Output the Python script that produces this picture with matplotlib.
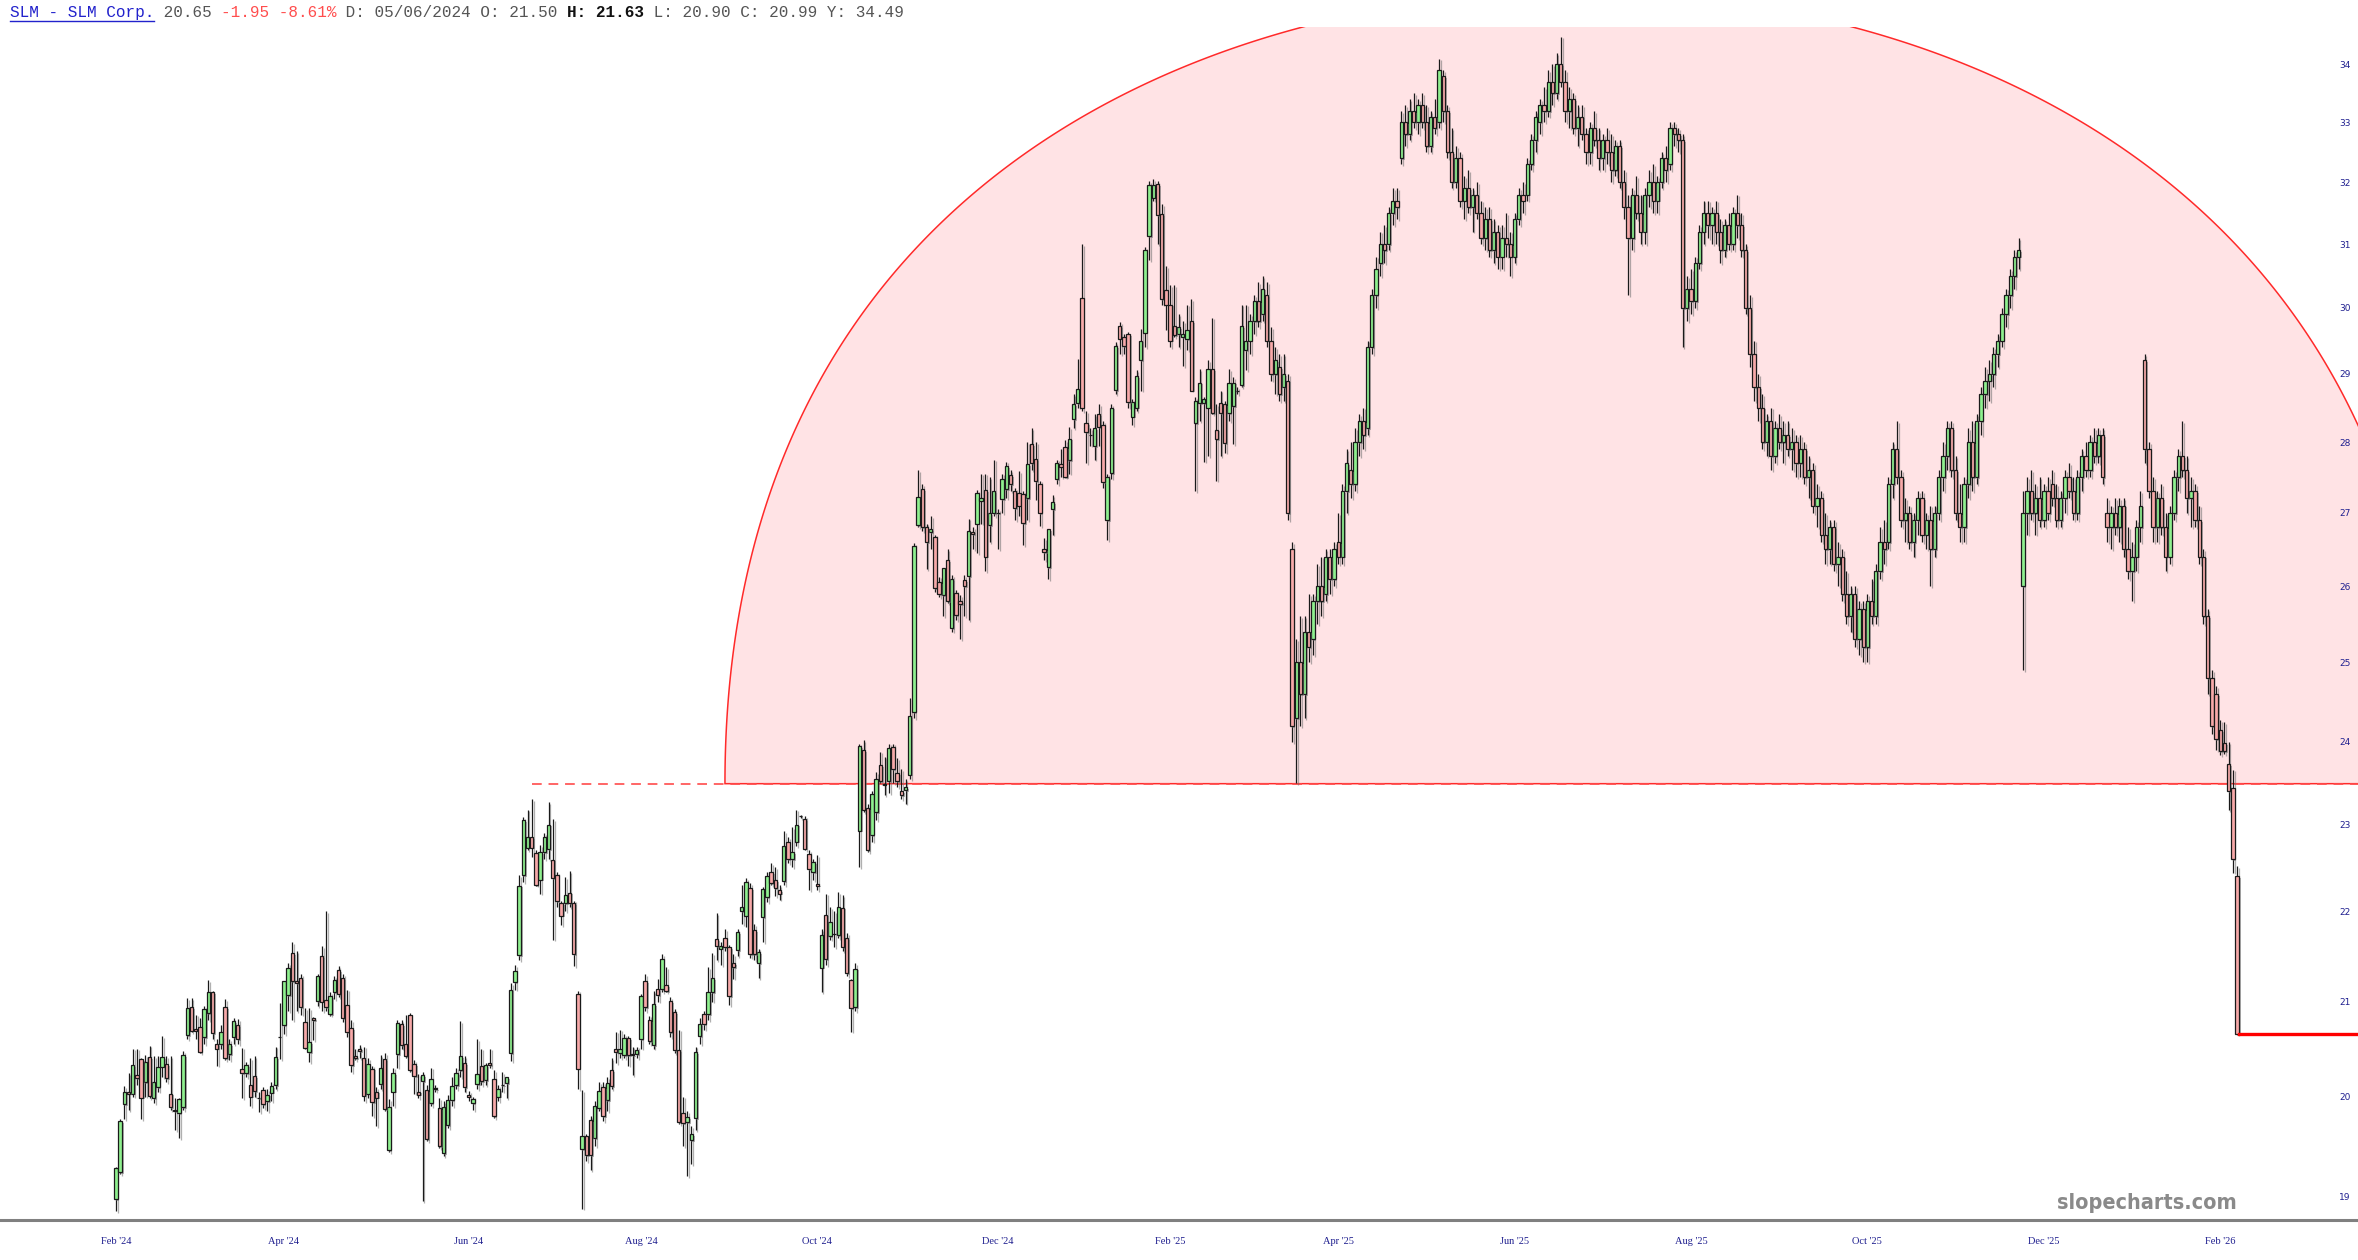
import numpy as np
import pandas as pd
import matplotlib
matplotlib.use('Agg')
import matplotlib.pyplot as plt
from matplotlib import patheffects as pe
from matplotlib import font_manager as fm
from matplotlib.patches import Polygon
from matplotlib.ticker import NullLocator, FixedLocator, FixedFormatter

W, H = 2358, 1260

# daily candles, SLM Corp., from 2024-02-01
opens = [18.97, 19.24, 19.92, 20.05, 20.03, 20.22, 20.39, 20.15, 20.41, 19.98,
         20.10, 20.31, 20.34, 20.03, 19.86, 19.83, 19.89, 20.64, 20.94, 20.71,
         20.73, 20.62, 20.88, 21.10, 20.55, 20.55, 20.94, 20.44, 20.62, 20.75,
         20.28, 20.24, 20.12, 20.21, 19.99, 20.07, 19.95, 20.04, 20.12, 20.62, 20.75,
         21.07, 21.53, 21.22, 21.26, 20.78, 20.46, 20.82, 21.01, 21.50, 21.02,
         20.87, 21.10, 21.34, 21.26, 20.96, 20.72, 20.42, 20.50, 20.40, 20.03,
         20.29, 20.05, 20.13, 20.39, 19.46, 20.05, 20.44, 20.76, 20.55, 20.86,
         20.34, 20.05, 20.16, 20.07, 19.93, 20.08, 19.88, 19.43, 19.71, 19.96,
         20.12, 20.27, 20.35, 20.02, 19.93, 20.13, 20.32, 20.17, 20.35, 20.18,
         20.00, 20.12, 20.14, 20.45, 21.21, 21.51, 22.41, 22.73, 22.85, 22.67,
         22.36, 22.68, 22.71, 22.59, 22.41, 22.09, 22.09, 22.21, 22.09, 21.08,
         19.47, 19.60, 19.76, 19.58, 19.88, 20.10, 19.96, 20.27, 20.50, 20.45,
         20.43, 20.61, 20.44, 20.44, 20.60, 21.22, 20.80, 20.54, 21.14, 21.14,
         21.18, 21.01, 20.89, 20.48, 19.83, 19.74, 19.56, 19.78, 20.63, 20.87,
         20.87, 21.10, 21.69, 21.58, 21.70, 21.60, 21.42, 21.56, 22.00, 21.95,
         22.26, 21.79, 21.42, 21.93, 22.16, 22.45, 22.35, 22.24, 22.34, 22.80,
         22.60, 22.80, 23.10, 23.07, 22.66, 22.45, 22.31, 21.37, 21.96, 21.72,
         21.74, 21.73, 22.04, 21.70, 21.23, 20.94, 22.93, 23.90, 23.20, 22.88,
         23.15, 23.72, 23.48, 23.52, 23.94, 23.62, 23.40, 23.41, 23.60, 24.37, 26.83,
         27.33, 26.80, 26.73, 26.66, 26.06, 25.88, 26.35, 25.45, 25.91, 25.80,
         26.08, 26.14, 26.74, 26.85, 27.17, 27.32, 26.83, 27.00, 27.00, 27.19,
         27.33, 27.53, 27.30, 27.27, 27.26, 27.21, 27.97, 27.76, 27.40, 26.50,
         26.26, 27.05, 27.47, 27.68, 27.93, 27.74, 28.33, 28.57, 30.15, 28.28,
         28.10, 27.94, 28.41, 28.25, 26.90, 27.56, 28.76, 29.72, 29.55, 29.60,
         28.37, 28.50, 29.20, 29.62, 31.13, 31.75, 31.97, 31.48, 30.27, 30.05,
         29.72, 29.60, 29.55, 29.52, 29.80, 28.27, 28.57, 28.57, 28.50, 29.07, 28.18,
         28.57, 28.55, 28.42, 28.52, 28.74, 28.83, 29.36,
         29.5, 29.8, 30.1, 29.9, 30.2, 29.5, 29.0, 29.1, 28.8, 28.9,
         26.5, 24.3, 25.0, 24.6, 25.4, 25.3, 25.8, 26.0, 25.9, 26.4,
         26.1, 26.6, 26.4, 27.3, 27.6, 27.4, 28.0, 28.3, 28.2, 29.4,
         30.2, 30.7, 31.0, 31.0, 31.5, 31.7, 32.4, 33.0, 32.8, 33.2,
         33.0, 33.3, 33.0, 32.6, 33.1, 33.0, 33.8, 33.2, 32.5, 32.0,
         32.4, 31.7, 31.9, 31.6, 31.8, 31.5, 31.1, 31.4, 30.9, 31.2,
         30.8, 31.1, 31.0, 30.8, 31.4, 31.8, 31.8, 32.3, 32.7, 33.0,
         33.3, 33.2, 33.7, 33.5, 34.0, 33.7, 33.2, 33.4, 32.9, 33.1,
         32.8, 32.5, 32.9, 32.7, 32.4, 32.7, 32.5, 32.2, 32.6, 32.0,
         31.6, 31.1, 31.8, 31.5, 31.2, 31.8, 32.0, 31.7, 32.0, 32.4,
         32.3, 32.9, 32.8, 32.7, 30.0, 30.3, 30.1, 30.7, 31.2, 31.5,
         31.3, 31.5, 31.2, 30.9, 31.3, 31.0, 31.5, 31.3, 30.9, 30.0,
         29.3, 28.8, 28.5, 28.0, 28.3, 27.8, 28.2, 28.0, 28.1, 27.9,
         28.0, 27.7, 27.9, 27.5, 27.6, 27.1, 27.2, 26.7, 26.5, 26.8,
         26.3, 26.4, 25.9, 25.6, 25.9, 25.3, 25.7, 25.2, 25.8, 25.6,
         26.2, 26.6, 26.6, 27.4, 27.9, 27.5, 26.9, 27.0, 26.6, 26.9,
         27.2, 26.7, 26.9, 26.5, 27.0, 27.5, 27.8, 28.2, 27.6, 27.0,
         26.8, 27.4, 28.0, 27.5, 28.3, 28.7, 28.9, 29.0, 29.3, 29.5,
         29.9, 30.2, 30.5, 30.8, 26.0, 27.0, 27.3, 27.0, 27.2, 26.9,
         27.3, 27.4, 27.2, 26.9, 27.2, 27.5, 27.3, 27.0, 27.5,
         27.8, 27.6, 28.0, 27.8, 28.1, 27.0, 26.8, 27.0, 26.8, 27.1,
         26.5, 26.2, 26.4, 26.8, 29.2, 27.9, 27.3, 26.8, 27.2, 26.8,
         26.4, 27.0, 27.5, 27.8, 27.6, 27.2, 27.3, 26.9, 26.4, 25.6,
         24.8, 24.6, 24.15, 23.99, 23.73, 23.44, 22.40]
highs = [19.29, 19.77, 20.11, 20.24, 20.50, 20.50, 20.40, 20.43, 20.53, 20.42,
         20.42, 20.63, 20.42, 20.42, 19.99, 19.99, 20.47, 21.04, 21.04, 20.86,
         20.82, 20.95, 21.23, 21.12, 20.60, 20.75, 21.03, 20.60, 20.82, 20.81,
         20.51, 20.36, 20.40, 20.42, 20.05, 20.10, 20.08, 20.15, 20.52, 20.98, 21.22,
         21.42, 21.65, 21.55, 21.30, 20.93, 20.93, 20.84, 21.30, 21.61, 22.00,
         21.10, 21.28, 21.39, 21.30, 21.13, 20.80, 20.50, 20.54, 20.52, 20.40,
         20.32, 20.10, 20.43, 20.45, 19.97, 20.30, 20.80, 20.80, 20.86, 20.88,
         20.38, 20.23, 20.25, 20.12, 20.30, 20.12, 19.98, 19.95, 20.02, 20.20,
         20.30, 20.79, 20.42, 20.06, 20.00, 20.60, 20.50, 20.35, 20.50, 20.27,
         20.12, 20.25, 20.20, 21.20, 21.40, 22.41, 23.09, 23.18, 23.30, 22.70,
         22.76, 22.90, 23.27, 23.07, 22.45, 22.12, 22.39, 22.46, 22.12, 21.12,
         20.07, 19.62, 19.80, 19.95, 20.15, 20.15, 20.20, 20.40, 20.68, 20.70,
         20.65, 20.63, 20.52, 20.52, 21.08, 21.30, 20.85, 21.11, 21.25, 21.52,
         21.38, 21.05, 20.92, 20.70, 20.00, 19.85, 19.70, 20.52, 20.82, 20.90,
         21.38, 21.53, 21.98, 21.65, 21.80, 21.62, 21.52, 21.80, 22.30, 22.38,
         22.32, 21.85, 21.58, 22.27, 22.45, 22.55, 22.50, 22.30, 22.92, 22.85,
         22.97, 23.18, 23.12, 23.10, 22.70, 22.60, 22.64, 21.80, 22.20, 22.05,
         22.00, 22.22, 22.18, 21.75, 21.25, 21.42, 23.98, 24.02, 23.25, 23.40,
         23.63, 23.88, 23.82, 23.98, 23.98, 23.80, 23.67, 23.55, 24.55, 26.58, 27.60,
         27.40, 26.85, 26.95, 26.70, 26.13, 26.25, 26.50, 26.15, 25.95, 25.88,
         26.15, 26.92, 26.80, 27.32, 27.55, 27.55, 27.50, 27.75, 27.05, 27.55,
         27.72, 27.60, 27.35, 27.58, 27.30, 28.00, 28.20, 28.00, 27.45, 26.65,
         26.78, 27.25, 27.75, 27.90, 28.03, 28.22, 28.70, 29.22, 31.00, 28.45,
         28.20, 28.40, 28.55, 28.30, 27.55, 28.55, 29.48, 29.78, 29.60, 29.63,
         28.62, 29.05, 29.68, 30.95, 32.02, 32.05, 32.02, 31.65, 30.65, 30.35,
         30.35, 29.90, 29.80, 30.05, 30.14, 28.65, 29.07, 28.65, 29.20, 29.85, 28.55,
         28.75, 28.60, 29.07, 28.95, 28.80, 30.05, 30.05,
         29.9, 30.2, 30.4, 30.5, 30.4, 29.7, 29.4, 29.3, 29.3, 29.0,
         26.6, 25.3, 25.6, 25.6, 25.9, 25.9, 26.3, 26.4, 26.5, 26.5,
         26.6, 27.0, 27.4, 27.9, 28.0, 28.2, 28.4, 28.5, 29.5, 30.3,
         30.8, 31.2, 31.3, 31.6, 31.9, 31.9, 33.2, 33.3, 33.4, 33.5,
         33.4, 33.5, 33.3, 33.2, 33.4, 34.1, 33.9, 33.3, 32.9, 32.6,
         32.5, 32.1, 32.2, 31.9, 32.0, 31.7, 31.6, 31.6, 31.4, 31.3,
         31.3, 31.5, 31.2, 31.5, 31.9, 32.0, 32.4, 32.8, 33.2, 33.4,
         33.6, 33.9, 34.0, 34.2, 34.49, 33.9, 33.6, 33.5, 33.3, 33.3,
         32.9, 33.0, 33.2, 32.9, 32.8, 32.9, 32.8, 32.7, 32.7, 32.2,
         31.8, 31.9, 32.1, 31.8, 31.9, 32.2, 32.3, 32.1, 32.5, 32.6,
         33.0, 33.0, 32.9, 32.8, 30.5, 30.6, 30.8, 31.3, 31.7, 31.7,
         31.6, 31.7, 31.4, 31.4, 31.5, 31.6, 31.8, 31.5, 31.0, 30.2,
         29.5, 29.0, 28.7, 28.4, 28.5, 28.3, 28.4, 28.3, 28.3, 28.2,
         28.1, 28.1, 28.0, 27.8, 27.7, 27.4, 27.3, 27.0, 26.9, 26.9,
         26.6, 26.5, 26.2, 26.0, 26.0, 25.8, 25.8, 25.9, 26.1, 26.3,
         26.8, 26.9, 27.5, 28.0, 28.3, 27.6, 27.2, 27.1, 27.0, 27.3,
         27.3, 27.0, 27.1, 27.1, 27.6, 28.0, 28.3, 28.3, 27.8, 27.4,
         27.5, 28.2, 28.3, 28.4, 28.8, 29.1, 29.2, 29.4, 29.6, 30.0,
         30.3, 30.6, 30.9, 31.1, 27.3, 27.5, 27.6, 27.4, 27.5, 27.4,
         27.5, 27.6, 27.4, 27.3, 27.6, 27.7, 27.5, 27.6, 27.9,
         28.0, 28.1, 28.2, 28.2, 28.2, 27.2, 27.1, 27.2, 27.2, 27.2,
         26.8, 26.6, 26.9, 27.3, 29.3, 28.0, 27.5, 27.3, 27.4, 27.0,
         27.1, 27.6, 27.9, 28.3, 27.8, 27.5, 27.4, 27.1, 26.5, 25.7,
         24.9, 24.7, 24.27, 24.25, 24.00, 23.66, 22.52]
lows = [18.86, 19.22, 19.77, 19.86, 20.00, 20.12, 19.77, 20.00, 19.98, 19.93,
        20.05, 20.20, 20.15, 19.86, 19.66, 19.58, 19.86, 20.60, 20.67, 20.60,
        20.45, 20.55, 20.80, 20.60, 20.32, 20.50, 20.38, 20.38, 20.55, 20.55,
        19.98, 20.20, 19.90, 20.00, 19.84, 19.88, 19.85, 19.95, 20.08, 20.39, 20.65,
        20.90, 20.80, 20.90, 20.86, 20.50, 20.36, 20.59, 20.95, 20.90, 20.90,
        20.85, 21.03, 21.05, 20.78, 20.62, 20.25, 20.38, 20.40, 19.95, 19.98,
        19.80, 19.70, 20.08, 19.85, 19.44, 19.90, 20.30, 20.50, 20.40, 20.25,
        20.03, 19.98, 18.95, 19.55, 19.90, 20.05, 19.48, 19.40, 19.68, 19.90,
        20.08, 20.20, 20.05, 19.95, 19.86, 20.08, 20.12, 20.12, 20.30, 19.78,
        19.95, 20.05, 19.98, 20.37, 21.13, 21.45, 22.33, 22.70, 22.62, 22.29,
        22.20, 22.60, 22.60, 21.68, 22.05, 21.84, 22.00, 22.05, 21.39, 20.08,
        18.88, 19.35, 19.26, 19.50, 19.85, 19.75, 19.85, 20.08, 20.35, 20.40,
        20.40, 20.32, 20.22, 20.40, 20.50, 20.90, 20.55, 20.50, 21.00, 21.10,
        21.10, 20.62, 20.45, 19.72, 19.50, 19.20, 19.32, 19.66, 20.55, 20.70,
        20.80, 21.00, 21.45, 21.40, 21.55, 20.96, 21.25, 21.50, 21.85, 21.82,
        21.48, 21.45, 21.26, 21.65, 22.10, 22.30, 22.17, 22.13, 22.30, 22.55,
        22.50, 22.75, 23.08, 22.70, 22.24, 22.35, 22.24, 21.10, 21.40, 21.68,
        21.60, 21.70, 21.55, 21.28, 20.68, 20.90, 22.50, 23.15, 22.68, 22.80,
        23.05, 23.50, 23.35, 23.38, 23.50, 23.45, 23.30, 23.25, 23.55, 24.30, 26.80,
        26.75, 26.23, 26.50, 25.92, 25.85, 25.60, 25.78, 25.40, 25.55, 25.30,
        25.60, 25.55, 26.50, 26.45, 26.85, 26.20, 26.60, 26.95, 26.50, 27.00,
        27.20, 27.30, 26.90, 26.95, 26.55, 26.90, 27.60, 27.18, 26.82, 26.35,
        26.10, 26.70, 27.40, 27.50, 27.50, 27.55, 28.20, 28.50, 28.45, 27.70,
        27.95, 27.75, 27.94, 27.35, 26.62, 27.48, 28.70, 29.30, 29.30, 28.50,
        28.25, 28.45, 28.75, 29.40, 30.75, 31.70, 31.00, 30.05, 29.66, 29.40,
        29.55, 29.40, 29.12, 29.35, 28.75, 27.30, 28.30, 27.72, 27.80, 28.40, 27.45,
        27.80, 27.85, 28.30, 27.97, 28.70, 28.80, 29.05,
        29.3, 29.6, 29.7, 29.8, 29.4, 28.9, 28.7, 28.6, 28.6, 26.9,
        24.0, 23.5, 24.2, 24.3, 25.0, 25.1, 25.5, 25.6, 25.8, 25.9,
        26.0, 26.3, 26.3, 27.0, 27.2, 27.3, 27.8, 27.9, 28.1, 29.3,
        30.0, 30.5, 30.7, 30.9, 31.3, 31.4, 32.3, 32.6, 32.7, 32.9,
        32.8, 32.9, 32.5, 32.5, 32.8, 32.9, 33.0, 32.4, 31.9, 31.9,
        31.6, 31.4, 31.5, 31.2, 31.4, 31.0, 30.9, 30.8, 30.7, 30.6,
        30.6, 30.8, 30.5, 30.7, 31.3, 31.5, 31.7, 32.2, 32.5, 32.8,
        33.0, 33.1, 33.3, 33.4, 33.6, 33.0, 32.9, 32.8, 32.6, 32.7,
        32.3, 32.3, 32.6, 32.2, 32.2, 32.3, 32.0, 32.1, 31.9, 31.4,
        30.2, 30.9, 31.4, 31.0, 31.0, 31.6, 31.5, 31.5, 31.9, 32.0,
        32.2, 32.6, 32.5, 29.4, 29.8, 29.9, 30.0, 30.6, 31.0, 31.1,
        31.0, 31.0, 30.7, 30.8, 30.9, 30.9, 31.1, 30.8, 29.9, 29.1,
        28.6, 28.3, 27.9, 27.8, 27.6, 27.7, 27.9, 27.7, 27.8, 27.6,
        27.5, 27.5, 27.4, 27.2, 27.0, 26.8, 26.6, 26.3, 26.3, 26.2,
        26.0, 25.8, 25.5, 25.4, 25.2, 25.1, 25.0, 25.0, 25.5, 25.5,
        26.1, 26.3, 26.5, 27.2, 27.4, 26.8, 26.6, 26.5, 26.4, 26.7,
        26.6, 26.5, 26.0, 26.4, 26.9, 27.3, 27.6, 27.5, 26.9, 26.6,
        26.6, 27.2, 27.3, 27.4, 28.1, 28.5, 28.6, 28.8, 29.1, 29.4,
        29.7, 30.0, 30.3, 30.6, 24.9, 26.7, 26.9, 26.7, 26.8, 26.8,
        26.9, 27.1, 26.8, 26.8, 27.0, 27.2, 26.9, 26.9, 27.3,
        27.5, 27.5, 27.7, 27.7, 27.4, 26.6, 26.5, 26.7, 26.6, 26.4,
        26.1, 25.8, 26.2, 26.6, 27.7, 27.2, 26.6, 26.6, 26.7, 26.2,
        26.3, 26.9, 27.3, 27.5, 27.0, 26.8, 26.8, 26.3, 25.5, 24.6,
        24.1, 23.9, 23.84, 23.85, 23.17, 22.44, 20.65]
closes = [19.28, 19.75, 20.05, 20.03, 20.33, 20.19, 19.99, 20.36, 20.01, 20.15,
          20.31, 20.41, 20.19, 19.89, 19.85, 19.97, 20.43, 20.93, 20.69, 20.69,
          20.46, 20.92, 21.10, 20.66, 20.50, 20.68, 20.40, 20.55, 20.79, 20.60,
          20.24, 20.33, 20.00, 20.06, 19.98, 19.92, 20.02, 20.11, 20.41, 20.62, 21.22,
          21.37, 21.22, 21.20, 20.94, 20.51, 20.57, 20.80, 21.28, 21.00, 20.94,
          21.06, 21.23, 21.08, 20.82, 20.67, 20.33, 20.40, 20.47, 20.01, 20.34,
          19.94, 19.99, 20.30, 19.87, 19.89, 20.24, 20.77, 20.54, 20.42, 20.27,
          20.21, 20.02, 20.22, 19.57, 20.18, 20.08, 19.50, 19.89, 19.96, 20.11,
          20.24, 20.42, 20.10, 20.00, 19.97, 20.23, 20.16, 20.33, 20.33, 19.80,
          20.08, 20.12, 20.20, 21.13, 21.33, 22.29, 23.05, 22.86, 22.73, 22.30,
          22.68, 22.86, 23.00, 22.38, 22.11, 21.95, 22.18, 22.09, 21.52, 20.29,
          19.60, 19.41, 19.41, 19.90, 20.06, 19.80, 20.14, 20.11, 20.46, 20.49,
          20.61, 20.43, 20.43, 20.48, 21.06, 20.94, 20.58, 20.97, 21.07, 21.47,
          21.11, 20.67, 20.48, 19.74, 19.73, 19.79, 19.62, 20.46, 20.76, 20.76,
          21.10, 21.26, 21.61, 21.61, 21.60, 21.06, 21.38, 21.76, 22.05, 22.33,
          21.52, 21.52, 21.54, 22.25, 22.40, 22.32, 22.26, 22.20, 22.75, 22.60,
          22.68, 23.00, 23.10, 22.72, 22.48, 22.56, 22.29, 21.73, 21.46, 21.88,
          21.74, 22.05, 21.60, 21.31, 20.93, 21.36, 23.95, 23.18, 22.70, 23.37,
          23.55, 23.52, 23.48, 23.92, 23.67, 23.52, 23.35, 23.45, 24.32, 26.54, 27.22,
          26.80, 26.60, 26.77, 25.97, 25.90, 26.25, 25.80, 26.10, 25.62, 25.76,
          26.00, 26.75, 26.71, 27.28, 27.20, 26.40, 27.00, 27.30, 27.00, 27.47,
          27.66, 27.40, 27.07, 27.10, 26.86, 27.68, 27.70, 27.44, 27.00, 26.46,
          26.77, 27.15, 27.70, 27.65, 27.50, 28.05, 28.55, 28.78, 28.50, 28.14,
          28.10, 28.20, 28.22, 27.43, 27.50, 28.50, 29.42, 29.53, 29.42, 28.58,
          28.58, 28.97, 29.50, 30.90, 31.95, 31.95, 31.47, 30.14, 30.05, 29.50,
          29.58, 29.70, 29.60, 29.66, 28.75, 28.60, 28.87, 28.62, 29.07, 28.42, 28.04,
          28.42, 27.99, 28.87, 28.87, 28.74, 29.72, 29.49,
          29.8, 30.1, 29.8, 30.3, 29.5, 29.0, 29.2, 28.7, 29.0, 27.0,
          24.2, 25.0, 24.6, 25.4, 25.2, 25.8, 26.0, 25.8, 26.4, 26.1,
          26.5, 26.4, 27.3, 27.7, 27.4, 28.0, 28.3, 28.1, 29.4, 30.2,
          30.6, 31.0, 30.9, 31.5, 31.7, 31.6, 33.0, 32.8, 33.2, 33.0,
          33.3, 33.0, 32.6, 33.1, 32.9, 33.9, 33.2, 32.5, 32.0, 32.4,
          31.7, 31.9, 31.6, 31.8, 31.5, 31.1, 31.4, 30.9, 31.2, 30.8,
          31.1, 31.0, 30.8, 31.4, 31.8, 31.7, 32.3, 32.7, 33.1, 33.3,
          33.2, 33.7, 33.5, 34.0, 33.7, 33.2, 33.4, 32.9, 33.1, 32.8,
          32.5, 32.9, 32.7, 32.4, 32.7, 32.5, 32.2, 32.6, 32.0, 31.6,
          31.1, 31.8, 31.5, 31.2, 31.8, 32.0, 31.7, 32.0, 32.4, 32.2,
          32.9, 32.8, 32.7, 30.0, 30.3, 30.1, 30.7, 31.2, 31.5, 31.3,
          31.5, 31.2, 30.9, 31.3, 31.0, 31.5, 31.3, 30.9, 30.0, 29.3,
          28.8, 28.5, 28.0, 28.3, 27.8, 28.2, 28.0, 28.1, 27.9, 28.0,
          27.7, 27.9, 27.5, 27.6, 27.1, 27.2, 26.7, 26.5, 26.8, 26.3,
          26.4, 25.9, 25.6, 25.9, 25.3, 25.7, 25.2, 25.8, 25.6, 26.2,
          26.6, 26.5, 27.4, 27.9, 27.5, 26.9, 27.0, 26.6, 26.9, 27.2,
          26.7, 26.9, 26.5, 27.0, 27.5, 27.8, 28.2, 27.6, 27.0, 26.8,
          27.4, 28.0, 27.5, 28.3, 28.7, 28.9, 29.0, 29.3, 29.5, 29.9,
          30.2, 30.5, 30.8, 30.9, 27.0, 27.3, 27.0, 27.2, 26.9, 27.3,
          27.0, 27.2, 26.9, 27.2, 27.5, 27.3, 27.0, 27.5, 27.8,
          27.6, 28.0, 27.8, 28.1, 27.5, 26.8, 27.0, 26.8, 27.1, 26.5,
          26.2, 26.4, 26.8, 27.1, 27.9, 27.3, 26.8, 27.2, 26.8, 26.4,
          27.0, 27.5, 27.8, 27.6, 27.2, 27.3, 26.9, 26.4, 25.6, 24.8,
          24.2, 24.03, 23.89, 23.89, 23.40, 22.60, 20.65]

nyse_holidays = ['2024-02-19', '2024-03-29', '2024-05-27', '2024-06-19', '2024-07-04',
                 '2024-09-02', '2024-11-28', '2024-12-25', '2025-01-01', '2025-01-09',
                 '2025-01-20', '2025-02-17', '2025-04-18', '2025-05-26', '2025-06-19',
                 '2025-07-04', '2025-09-01', '2025-11-27', '2025-12-25', '2026-01-01',
                 '2026-01-19', '2026-02-16']
y_ticks = list(range(19, 35))

neckline = 23.49
last_price = 20.65
neck_start = 99
# dome drawn as a half ellipse in (bar, price) space
dome_center, dome_halfwidth, dome_rise = 348.0, 203.0, 11.8

x_min, x_max = -27.6, 533.8
y_min, y_max = 18.77, 34.66

fig = plt.figure(figsize=(W / 100, H / 100), dpi=100)
fig.patch.set_facecolor('white')
ax = fig.add_axes([0, 40 / H, 1, (H - 40 - 27) / H])
ax.set_yscale('log')
ax.set_xlim(x_min, x_max)
ax.set_ylim(y_min, y_max)

t = np.linspace(0, np.pi, 800)
dome_x = dome_center + dome_halfwidth * np.cos(t)
dome_y = neckline + dome_rise * np.sin(t)
ax.add_patch(Polygon(np.column_stack([dome_x, dome_y]), closed=True,
                     facecolor='#ffe3e5', edgecolor='#ff2a2a', lw=1.1, zorder=1))
ax.plot([neck_start, x_max], [neckline, neckline], color='#ff4b4b', lw=1.4,
        dashes=(5, 3.5), alpha=0.85, zorder=2)

# candles
x = np.arange(len(closes))
o = np.array(opens)
c = np.array(closes)
hi = np.array(highs)
lo = np.array(lows)
up = c >= o
b_lo = np.minimum(o, c)
b_hi = np.maximum(o, c)
b_h = np.maximum(b_hi - b_lo, 0.004)

line_shadow = [pe.SimpleLineShadow(offset=(1.3, -1.3), shadow_color='#707070', alpha=0.55), pe.Normal()]
ax.vlines(x, lo, hi, color='#1a1a1a', lw=0.9, zorder=3, path_effects=line_shadow)
for mask, face in [(up, '#8ff08f'), (~up, '#f7a9a9')]:
    bars = ax.bar(x[mask], b_h[mask], bottom=b_lo[mask], width=0.8, color=face,
                  edgecolor='#1a1a1a', linewidth=0.9, zorder=4)
    for p in bars:
        p.set_path_effects([pe.SimplePatchShadow(offset=(1.3, -1.3), shadow_rgbFace='#707070', alpha=0.5),
                            pe.Normal()])

ax.plot([len(closes) - 1 + 0.4, x_max], [last_price, last_price], color='#ff0000', lw=2.4, zorder=5)

# axes styling
for s in ['top', 'left', 'right']:
    ax.spines[s].set_visible(False)
ax.spines['bottom'].set_color('#808080')
ax.spines['bottom'].set_linewidth(2.2)

ax.yaxis.set_major_locator(FixedLocator(y_ticks))
ax.yaxis.set_major_formatter(FixedFormatter([str(v) for v in y_ticks]))
ax.yaxis.set_minor_locator(NullLocator())
ax.tick_params(axis='y', which='both', left=False, right=False, labelleft=False, labelright=True,
               pad=-17, labelsize=6.5, labelcolor='#1f1f8f')

bday = pd.offsets.CustomBusinessDay(holidays=nyse_holidays)
cal = pd.date_range('2024-02-01', periods=560, freq=bday)
ticks, labels = [], []
prev = None
for i, d in enumerate(cal):
    if i > x_max:
        break
    if (d.year, d.month) != prev:
        prev = (d.year, d.month)
        if d.month % 2 == 0:
            ticks.append(i)
            labels.append(d.strftime("%b '%y"))
ax.set_xticks(ticks)
ax.set_xticklabels(labels, family='Liberation Serif', fontsize=7.5, color='#1f1f8f')
ax.tick_params(axis='x', length=0, pad=12)

# header line
parts = [('SLM - SLM Corp.', '#2222cc', 'normal'), (' 20.65 ', '#555555', 'normal'),
         ('-1.95 -8.61%', '#ff4d4d', 'normal'), (' D: 05/06/2024 O: 21.50 ', '#555555', 'normal'),
         ('H: 21.63', '#111111', 'bold'), (' L: 20.90 C: 20.99 Y: 34.49', '#555555', 'normal')]
cw = 9.6
pos = 0
for txt, col, wt in parts:
    fig.text((10 + pos * cw) / W, 1 - 17 / H, txt, family='Liberation Mono', fontsize=11.5,
             color=col, weight=wt, va='baseline', ha='left')
    pos += len(txt)
fig.add_artist(plt.Line2D([10 / W, (10 + 15 * cw) / W], [1 - 21 / H, 1 - 21 / H],
                          color='#2222cc', lw=1.0))

# watermark in a narrow bold face
font_names = {f.name for f in fm.fontManager.ttflist}
if 'Liberation Sans Narrow' in font_names:
    wm = dict(family='Liberation Sans Narrow', fontsize=20)
else:
    wm = dict(family='DejaVu Sans', fontstretch='condensed', fontsize=15.5)
fig.text(2147 / W, 1 - 1203 / H, 'slopecharts.com', weight='bold', color='#8a8a8a',
         ha='center', va='center', **wm)

fig.savefig('out.png', dpi=100)
